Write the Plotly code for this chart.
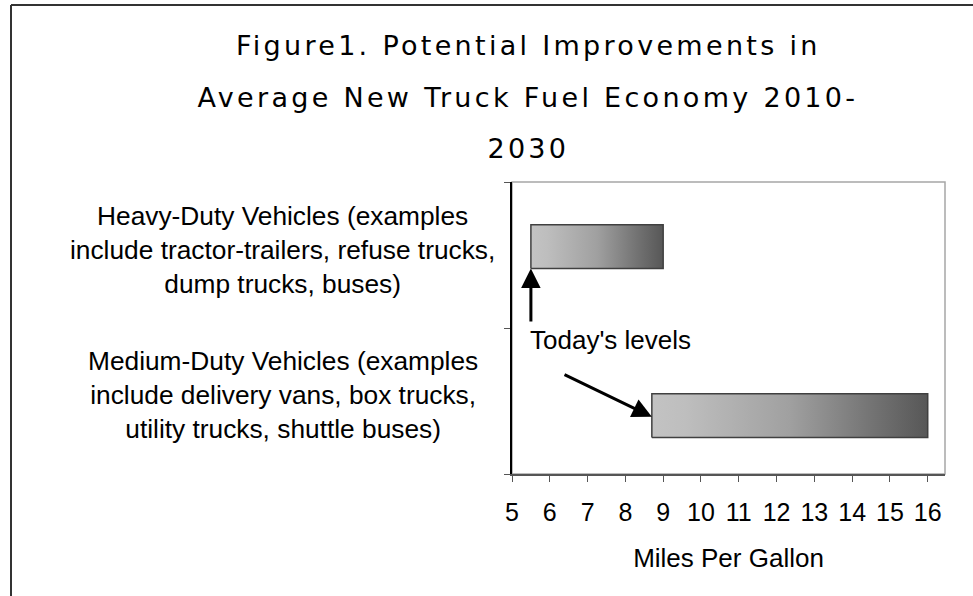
import plotly.graph_objects as go

# ---------------- data ----------------
categories = [
    "Heavy-Duty Vehicles (examples<br>include tractor-trailers, refuse trucks,<br>dump trucks, buses)",
    "Medium-Duty Vehicles (examples<br>include delivery vans, box trucks,<br>utility trucks, shuttle buses)",
]
today_mpg = [5.5, 8.7]        # today's levels (bar start)
potential_mpg = [9.0, 16.0]   # potential 2030 level (bar end)
x_ticks = [5, 6, 7, 8, 9, 10, 11, 12, 13, 14, 15, 16]
title_lines = [
    "Figure1. Potential Improvements in",
    "Average New Truck Fuel Economy 2010-",
    "2030",
]
annotation_text = "Today's levels"
x_title = "Miles Per Gallon"

# ---------------- layout / style constants ----------------
W, H = 973, 596
L, R, T, B = 512, 28, 182, 122
BAR_CENTER = [1.557, 0.40]     # vertical placement of each bar (y axis 0..2)
BAR_HALF = 0.15
LABEL_Y = [0.767, 0.2705]      # paper y of the category labels
FONT = "Liberation Sans, Arial, sans-serif"
TITLE_FONT = "DejaVu Sans, Verdana, sans-serif"
GRAD = [[0.0, "#c3c3c3"], [0.12, "#bebebe"], [0.5, "#a0a0a0"],
        [0.8, "#737373"], [1.0, "#575757"]]

fig = go.Figure()

for s, e, yc in zip(today_mpg, potential_mpg, BAR_CENTER):
    y0, y1 = yc - BAR_HALF, yc + BAR_HALF
    fig.add_trace(go.Scatter(
        x=[s, e, e, s, s],
        y=[y0, y0, y1, y1, y0],
        mode="lines",
        fill="toself",
        fillgradient=dict(type="horizontal", colorscale=GRAD),
        line=dict(color="#404040", width=1.5),
        hoverinfo="skip",
        showlegend=False,
    ))

annotations = []
# category labels (left of the plot)
for text, py in zip(categories, LABEL_Y):
    annotations.append(dict(
        text=text, xref="paper", yref="paper", x=-0.529, y=py,
        xanchor="center", yanchor="middle", align="center", showarrow=False,
        font=dict(family=FONT, size=26.3, color="#000000"),
    ))

# title lines
for text, py in zip(title_lines, [1.4658, 1.291, 1.1164]):
    annotations.append(dict(
        text=text, xref="paper", yref="paper", x=0.0375, y=py,
        xanchor="center", yanchor="middle", showarrow=False,
        font=dict(family=TITLE_FONT, size=27, color="#000000"),
    ))

# "Today's levels" text
annotations.append(dict(
    text=annotation_text, xref="x", yref="y", x=5.42, y=0.918,
    xanchor="left", yanchor="middle", showarrow=False,
    font=dict(family=FONT, size=26, color="#000000"),
))

# arrows pointing to today's levels
annotations.append(dict(
    text="", xref="x", yref="y", axref="x", ayref="y",
    x=today_mpg[0], y=BAR_CENTER[0] - BAR_HALF,
    ax=today_mpg[0], ay=1.034,
    showarrow=True, arrowhead=2, arrowsize=1.3, arrowwidth=3, arrowcolor="#000000",
    standoff=0,
))
annotations.append(dict(
    text="", xref="x", yref="y", axref="x", ayref="y",
    x=today_mpg[1], y=BAR_CENTER[1] - 0.008,
    ax=6.35, ay=0.685,
    showarrow=True, arrowhead=2, arrowsize=1.3, arrowwidth=3, arrowcolor="#000000",
    standoff=0,
))

shapes = [
    # plot-area frame (top / right in light grey)
    dict(type="rect", xref="paper", yref="paper", x0=0, y0=0, x1=1, y1=1,
         line=dict(color="#a6a6a6", width=1.5), layer="below"),
    # outer figure border (top and left)
    dict(type="line", xref="paper", yref="paper",
         x0=(11 - L) / 433, x1=(980 - L) / 433, y0=(474 - 5) / 292, y1=(474 - 5) / 292,
         line=dict(color="#333333", width=2)),
    dict(type="line", xref="paper", yref="paper",
         x0=(11 - L) / 433, x1=(11 - L) / 433, y0=(474 - 5) / 292, y1=(474 - 600) / 292,
         line=dict(color="#333333", width=2)),
]

fig.update_layout(
    width=W, height=H,
    margin=dict(l=L, r=R, t=T, b=B, pad=0),
    paper_bgcolor="#ffffff", plot_bgcolor="#ffffff",
    showlegend=False,
    annotations=annotations,
    shapes=shapes,
    font=dict(family=FONT, color="#000000"),
    xaxis=dict(
        range=[5, 16.457], tickmode="array", tickvals=x_ticks,
        ticktext=[str(v) for v in x_ticks],
        showgrid=False, zeroline=False,
        showline=True, linecolor="#555555", linewidth=1.5,
        ticks="outside", ticklen=6, tickwidth=1, tickcolor="#555555",
        tickfont=dict(family=FONT, size=25, color="#000000"),
        ticklabelstandoff=9,
        title=dict(text=x_title, font=dict(family=FONT, size=26, color="#000000"),
                   standoff=24),
        fixedrange=True,
    ),
    yaxis=dict(
        range=[0, 2], tickmode="array", tickvals=[0, 1, 2],
        showticklabels=False, showgrid=False, zeroline=False,
        showline=True, linecolor="#000000", linewidth=1.5,
        ticks="outside", ticklen=6, tickwidth=1, tickcolor="#555555",
        fixedrange=True,
    ),
)

post = """
document.documentElement.style.margin = '0';
document.body.style.margin = '0';
document.body.style.overflow = 'hidden';
document.querySelectorAll('.annotation-text').forEach(function(t){
  var s = t.textContent;
  if (s.indexOf('Figure1') === 0 || s.indexOf('Average New') === 0 || s === '2030') {
    t.style.letterSpacing = '3.3px';
  }
});
"""

fig.write_html("out.html", config={"displayModeBar": False}, post_script=post)
